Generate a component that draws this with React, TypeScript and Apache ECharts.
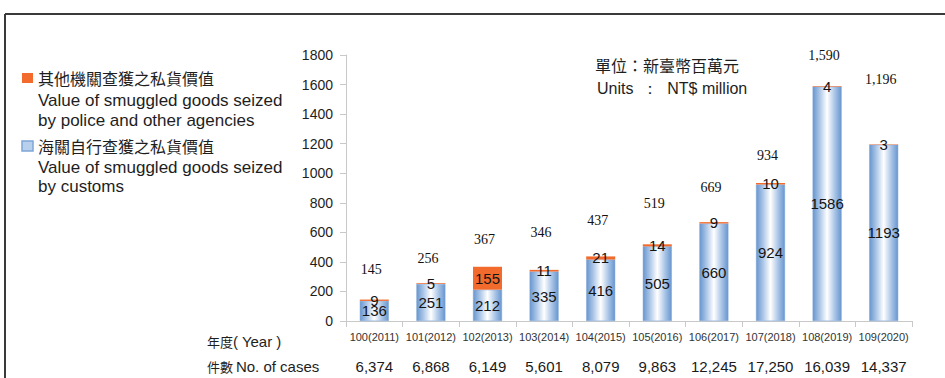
import React, { useEffect, useRef } from "react";
import * as echarts from "echarts";

// Fiscal years (ROC year and Gregorian year)
const years = [
  "100(2011)", "101(2012)", "102(2013)", "103(2014)", "104(2015)",
  "105(2016)", "106(2017)", "107(2018)", "108(2019)", "109(2020)",
];

// Value of smuggled goods seized by customs (NT$ million)
const customsValues = [136, 251, 212, 335, 416, 505, 660, 924, 1586, 1193];

// Value of smuggled goods seized by police and other agencies (NT$ million)
const otherValues = [9, 5, 155, 11, 21, 14, 9, 10, 4, 3];

// Number of cases per year
const caseCounts = [6374, 6868, 6149, 5601, 8079, 9863, 12245, 17250, 16039, 14337];

// Y axis ticks
const yMin = 0;
const yMax = 1800;
const yStep = 200;

// How far (px) each total label sits above its stack
const totalLabelLift = [30, 25, 27, 37, 36, 41, 35, 27, 31, 65];

const fmt = (n: number) => n.toLocaleString("en-US");

const SANS = "'Liberation Sans', Arial, sans-serif";
const SERIF = "'Liberation Serif', 'Times New Roman', serif";
const CJK = "'Noto Sans CJK TC', 'Noto Sans CJK SC', sans-serif";

export default function App() {
  const ref = useRef<HTMLDivElement | null>(null);

  useEffect(() => {
    if (!ref.current) return;
    const chart = echarts.init(ref.current, undefined, { renderer: "svg" });

    const totals = customsValues.map((v, i) => v + otherValues[i]);

    const blueGradient = new echarts.graphic.LinearGradient(0, 0, 1, 0, [
      { offset: 0, color: "#6796cf" },
      { offset: 0.22, color: "#a6c2e5" },
      { offset: 0.5, color: "#ffffff" },
      { offset: 0.78, color: "#a6c2e5" },
      { offset: 1, color: "#6796cf" },
    ]);

    const plainText = (x: number, y: number, text: string, font: string, size: number) => ({
      type: "text",
      x,
      y,
      style: {
        text,
        font: `${size}px ${font}`,
        fill: "#1e1e1e",
        textVerticalAlign: "middle",
        textAlign: "left",
      },
    });

    chart.setOption({
      animation: false,
      backgroundColor: "#ffffff",
      grid: { left: 346, top: 55, width: 566, height: 266, containLabel: false },
      xAxis: [
        {
          type: "category",
          data: years,
          axisLine: { show: true, lineStyle: { color: "#c9c9c9", width: 1 } },
          axisTick: { show: true, length: 6, interval: 0, lineStyle: { color: "#c9c9c9" } },
          axisLabel: { interval: 0, fontFamily: SANS, fontSize: 11, color: "#333333", margin: 10 },
        },
        {
          type: "category",
          position: "bottom",
          offset: 30,
          data: caseCounts.map(fmt),
          axisLine: { show: false },
          axisTick: { show: false },
          axisLabel: { interval: 0, fontFamily: SANS, fontSize: 15, color: "#1a1a1a", margin: 8 },
        },
      ],
      yAxis: {
        type: "value",
        min: yMin,
        max: yMax,
        interval: yStep,
        splitLine: { show: false },
        axisLine: { show: true, lineStyle: { color: "#c9c9c9", width: 1 } },
        axisTick: { show: true, length: 6, lineStyle: { color: "#c9c9c9" } },
        axisLabel: {
          formatter: (v: number) => String(v),
          fontFamily: SANS,
          fontSize: 14,
          color: "#1e1e1e",
          margin: 13,
        },
      },
      series: [
        {
          name: "海關自行查獲之私貨價值",
          type: "bar",
          stack: "value",
          barWidth: 29,
          data: customsValues,
          itemStyle: { color: blueGradient, borderColor: "#7ea6d6", borderWidth: 0.5 },
          label: {
            show: true,
            position: "inside",
            fontFamily: SANS,
            fontSize: 15,
            color: "#141414",
          },
        },
        {
          name: "其他機關查獲之私貨價值",
          type: "bar",
          stack: "value",
          barWidth: 29,
          data: otherValues,
          itemStyle: { color: "#f26a2c" },
          label: {
            show: true,
            position: "inside",
            fontFamily: SANS,
            fontSize: 15,
            color: "#141414",
          },
        },
        {
          name: "total",
          type: "scatter",
          symbolSize: 0,
          silent: true,
          itemStyle: { opacity: 1 },
          data: totals.map((t, i) => ({
            value: t,
            label: { offset: [-3, -totalLabelLift[i]] },
          })),
          label: {
            show: true,
            position: "inside",
            formatter: (p: any) => fmt(p.value),
            fontFamily: SERIF,
            fontSize: 14,
            color: "#111111",
          },
        },
      ],
      graphic: [
        // frame lines
        { type: "line", shape: { x1: 5, y1: 14, x2: 945, y2: 14 }, style: { stroke: "#3a3a3a", lineWidth: 2 } },
        { type: "line", shape: { x1: 5, y1: 14, x2: 5, y2: 378 }, style: { stroke: "#3a3a3a", lineWidth: 2 } },
        // legend
        { type: "rect", shape: { x: 22, y: 73, width: 11, height: 10 }, style: { fill: "#f26a2c" } },
        plainText(38, 78, "其他機關查獲之私貨價值", CJK, 16),
        plainText(38, 100, "Value of smuggled goods seized", SANS, 17),
        plainText(38, 120, "by police and other agencies", SANS, 17),
        {
          type: "rect",
          shape: { x: 22, y: 141, width: 11, height: 10 },
          style: { fill: "#b9d0ec", stroke: "#7ea6d6", lineWidth: 1.5 },
        },
        plainText(38, 146, "海關自行查獲之私貨價值", CJK, 16),
        plainText(38, 167, "Value of smuggled goods seized", SANS, 17),
        plainText(38, 186, "by customs", SANS, 17),
        // unit note
        plainText(595, 65, "單位：新臺幣百萬元", CJK, 16),
        plainText(597, 88, "Units  ：  NT$ million", SANS, 16),
        // row titles
        {
          type: "text",
          x: 207,
          y: 341,
          style: {
            text: "{c|年度}{e|( Year )}",
            textVerticalAlign: "middle",
            rich: {
              c: { fontFamily: CJK, fontSize: 13, fill: "#1e1e1e" },
              e: { fontFamily: SANS, fontSize: 15, fill: "#1e1e1e" },
            },
          },
        },
        {
          type: "text",
          x: 207,
          y: 366,
          style: {
            text: "{c|件數 }{e|No. of cases}",
            textVerticalAlign: "middle",
            rich: {
              c: { fontFamily: CJK, fontSize: 13, fill: "#1e1e1e" },
              e: { fontFamily: SANS, fontSize: 15, fill: "#1e1e1e" },
            },
          },
        },
      ],
    });

    return () => chart.dispose();
  }, []);

  return (
    <div
      ref={ref}
      style={{ position: "fixed", left: 0, top: 0, width: 945, height: 378, background: "#fff" }}
    />
  );
}
